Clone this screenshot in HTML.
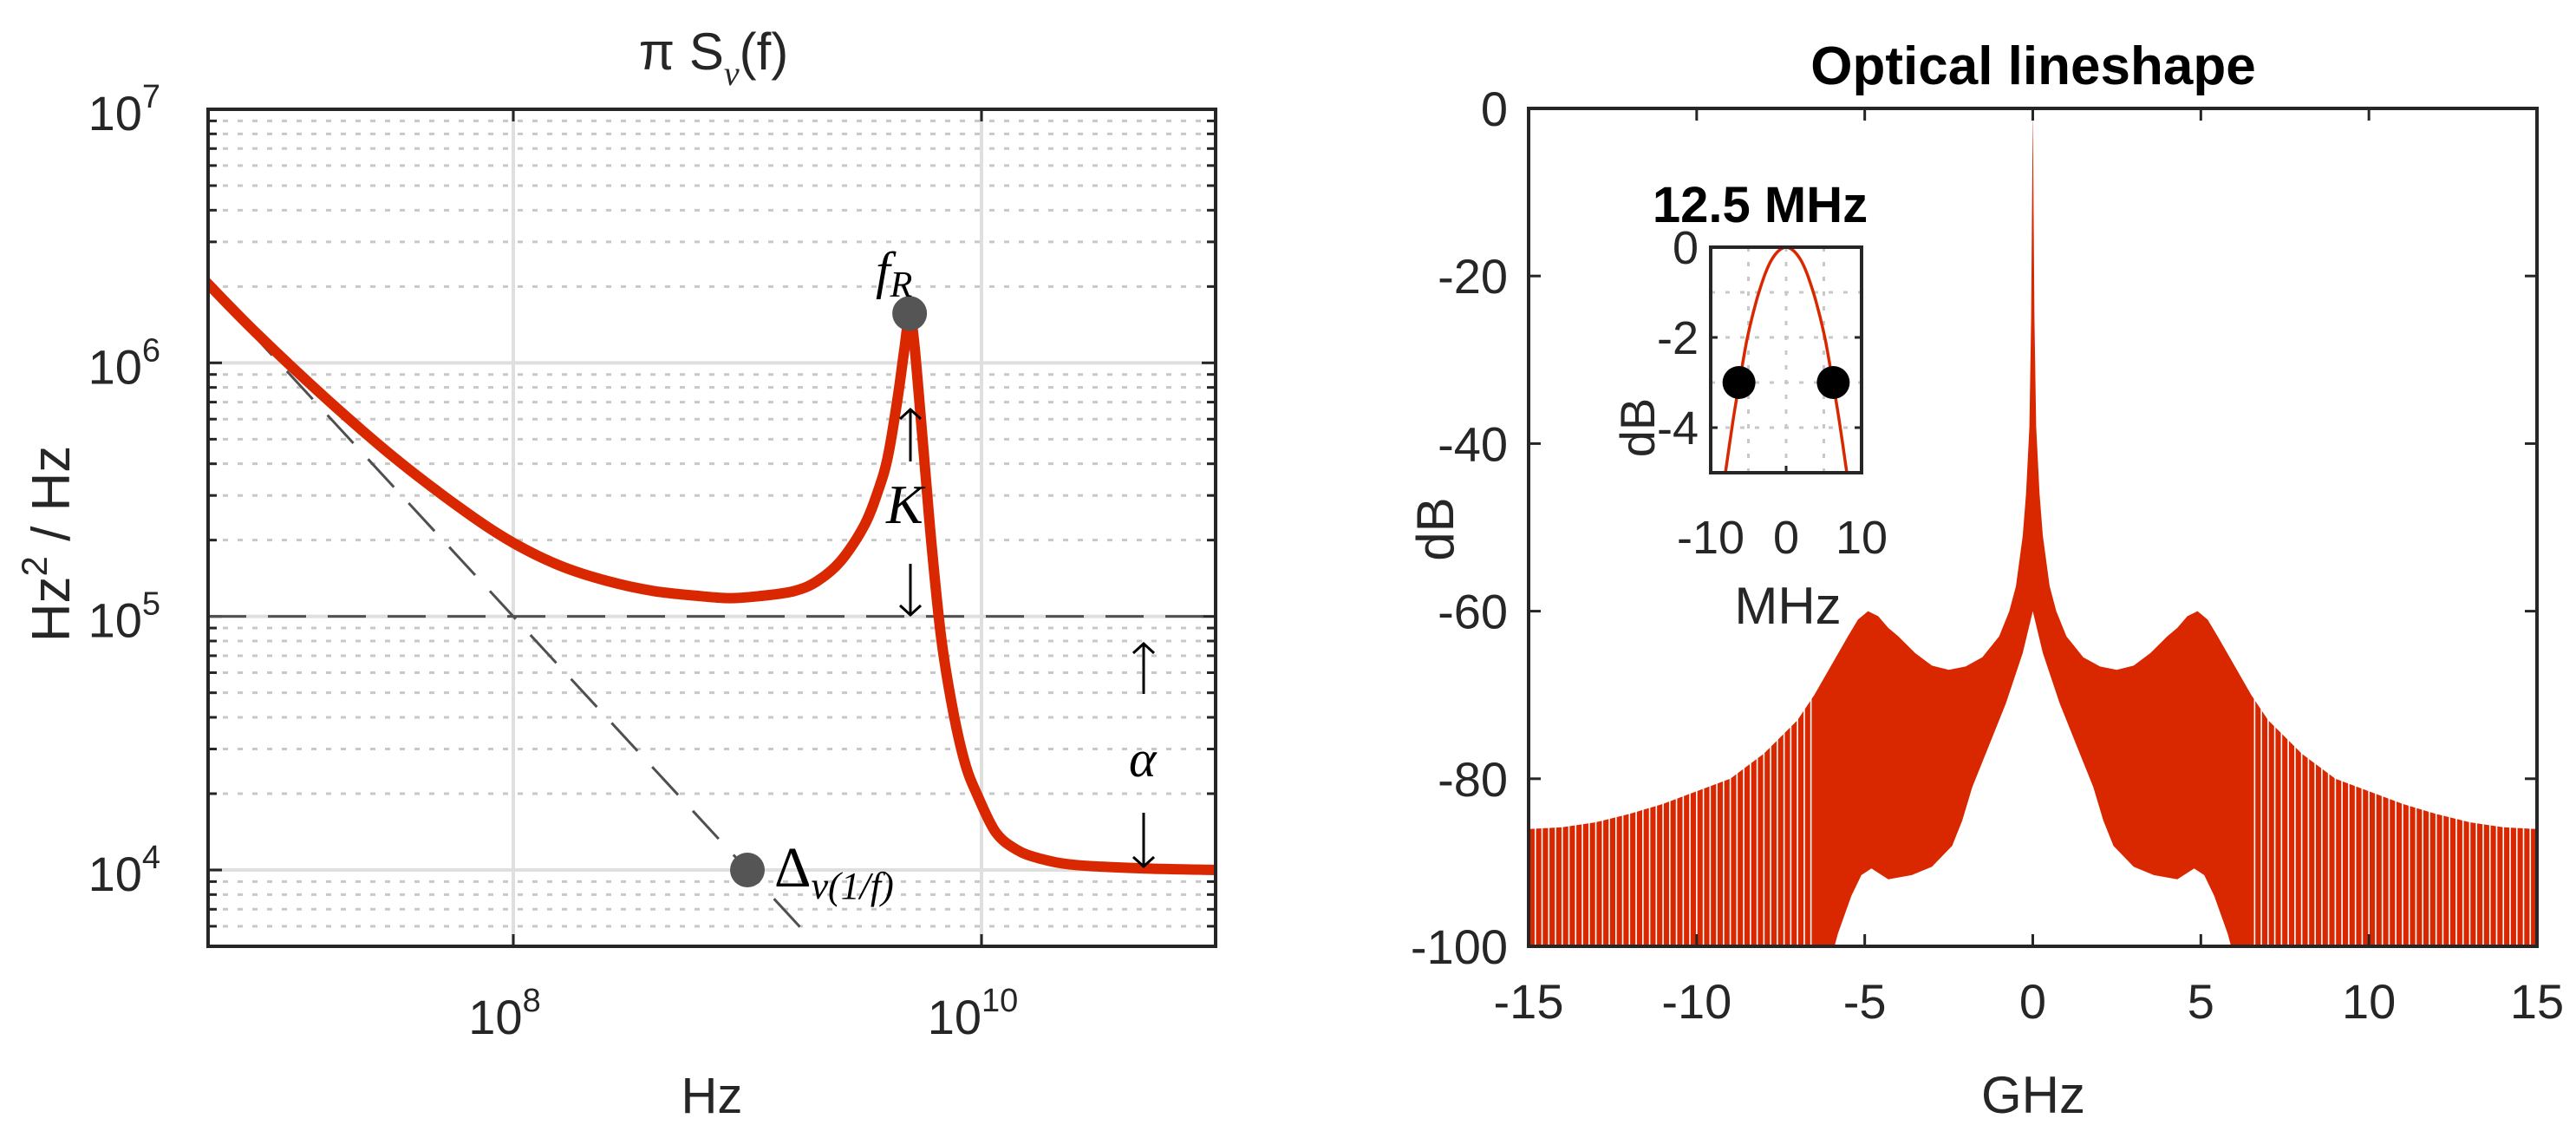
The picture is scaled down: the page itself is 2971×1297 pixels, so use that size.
<!DOCTYPE html>
<html><head><meta charset="utf-8">
<style>
html,body{margin:0;padding:0;background:#fff;}
svg{display:block;}
text{font-family:"Liberation Sans",sans-serif;fill:#262626;}
.m{font-family:"Liberation Serif",serif;font-style:italic;fill:#000;}
</style></head>
<body>
<svg id="fig" width="2971" height="1297" viewBox="0 0 2971 1297" xmlns="http://www.w3.org/2000/svg">
<g id="left"></g>
<g id="right"></g>
<g>
 <text class="m" x="1010" y="332" font-size="60">f<tspan font-size="42" dy="10">R</tspan></text>
 <text class="m" x="1022" y="603" font-size="64">K</text>
 <text class="m" x="1302" y="895" font-size="60">α</text>
 <text x="893" y="1022" font-size="66" style="font-family:'Liberation Serif',serif;fill:#000">Δ<tspan class="m" font-size="44" dy="14">v(1/f)</tspan></text>
 <text x="823" y="80" font-size="60" text-anchor="middle">π S<tspan class="m" font-size="40" dy="18" style="fill:#262626">v</tspan><tspan dy="-18">(f)</tspan></text>
 <text x="821" y="1283" font-size="58" text-anchor="middle">Hz</text>
 <text transform="translate(80,627) rotate(-90)" font-size="62" text-anchor="middle">Hz<tspan font-size="42" dy="-26">2</tspan><tspan dy="26"> / Hz</tspan></text>
</g>
</svg>
<script>
// ---------- Left chart data ----------
const psdLogF = [6.686,6.9,7.2,7.5,7.8,8.0,8.2,8.4,8.6,8.8,8.924,9.05,9.2,9.3,9.4,9.5,9.56,9.6,9.64,9.67,9.693,9.71,9.73,9.76,9.79,9.83,9.88,9.93,9.98,10.06,10.15,10.25,10.4,10.7,11.0];
const psdLogS = [6.321,6.12,5.86,5.62,5.41,5.29,5.2,5.14,5.1,5.08,5.072,5.08,5.1,5.14,5.22,5.36,5.5,5.63,5.85,6.05,6.195,6.1,5.9,5.57,5.25,4.9,4.62,4.42,4.3,4.15,4.08,4.045,4.02,4.006,4.0];
const oneOverFConst = 13.0;
const oneOverFRange = [6.686, 9.236];
const floorLevel = 5;
const markerFR = [9.693, 6.195];
const markerDelta = [9.0, 4.0];
const xTickExp = [8, 10];
const yTickExp = [4, 5, 6, 7];

// ---------- Right chart data ----------
const upperF  = [0,0.05,0.1,0.2,0.3,0.5,0.7,1,1.5,2,2.5,3,3.5,4,4.3,4.6,4.9,5.2,5.5,6,6.5,7,7.5,8,8.5,9,10,11,12,13,14,15];
const upperDB = [0,-25,-38,-46,-51,-57,-60,-63,-65.5,-66.6,-67,-66.5,-65,-63,-62,-60.6,-60,-61,-63,-66.5,-70,-73,-75,-77,-78.5,-80,-81.5,-83,-84.2,-85.2,-85.8,-86];
const lowerF  = [0,0.3,0.8,1.3,1.8,2.1,2.4,3,3.6,4.3,4.8,5.1,5.4,5.8,5.9];
const lowerDB = [-60,-65,-71,-76,-81,-85,-88,-90.5,-91.5,-92,-90.7,-91.5,-94,-98.5,-100];
const xTicksR = [-15,-10,-5,0,5,10,15];
const yTicksR = [0,-20,-40,-60,-80,-100];
// inset
const insetF  = [-8.05,-7,-6.2,-5.25,-4.5,-3.7,-2.8,-2,-1,0,1,2,2.8,3.7,4.5,5.25,6.2,7,8.05];
const insetDB = [-5,-3.8,-3,-2.1,-1.55,-1.05,-0.6,-0.3,-0.08,0,-0.08,-0.3,-0.6,-1.05,-1.55,-2.1,-3,-3.8,-5];
const insetDots = [-6.25, 6.25];
const insetDotDB = -3;
const insetXTicks = [-10,0,10];
const insetYTicks = [0,-2,-4];

const NS="http://www.w3.org/2000/svg";
function mk(parent,tag,attrs,txt){const e=document.createElementNS(NS,tag);for(const k in attrs)e.setAttribute(k,attrs[k]);if(txt!==undefined)e.textContent=txt;parent.appendChild(e);return e;}
function smooth(p){let d='M'+p[0][0].toFixed(1)+','+p[0][1].toFixed(1);
 for(let i=0;i<p.length-1;i++){const p0=p[i-1]||p[i],p1=p[i],p2=p[i+1],p3=p[i+2]||p2;
  const c1=[p1[0]+(p2[0]-p0[0])/6,p1[1]+(p2[1]-p0[1])/6],c2=[p2[0]-(p3[0]-p1[0])/6,p2[1]-(p3[1]-p1[1])/6];
  d+=` C${c1[0].toFixed(1)},${c1[1].toFixed(1)} ${c2[0].toFixed(1)},${c2[1].toFixed(1)} ${p2[0].toFixed(1)},${p2[1].toFixed(1)}`;}
 return d;}

// ===== Left panel =====
const L=document.getElementById('left');
const lx0=240,lx1=1402,ly0=126,ly1=1091;
const lfMin=8-352/270, lfMax=11.0, lsMin=3.699, lsMax=7;
const X=v=>lx0+(v-lfMin)/(lfMax-lfMin)*(lx1-lx0);
const Y=v=>ly1-(v-lsMin)/(lsMax-lsMin)*(ly1-ly0);
const clipL=mk(L,'clipPath',{id:'cl'});mk(clipL,'rect',{x:lx0,y:ly0,width:lx1-lx0,height:ly1-ly0});
for(let d=3;d<7;d++)for(let m=2;m<=9;m++){const v=d+Math.log10(m);if(v<lsMin)continue;const y=Y(v);
 const g=mk(L,'line',{x1:lx0,x2:lx1,y1:y,y2:y,stroke:'#c8c8c8','stroke-width':3,'stroke-dasharray':'6 11'});
 
 mk(L,'line',{x1:lx0,x2:lx0+10,y1:y,y2:y,stroke:'#262626','stroke-width':3});
 mk(L,'line',{x1:lx1-10,x2:lx1,y1:y,y2:y,stroke:'#262626','stroke-width':3});}
yTickExp.forEach(e=>{const y=Y(e);
 const g=mk(L,'line',{x1:lx0,x2:lx1,y1:y,y2:y,stroke:'#dfdfdf','stroke-width':4});
 
 mk(L,'line',{x1:lx0,x2:lx0+16,y1:y,y2:y,stroke:'#262626','stroke-width':3});
 mk(L,'line',{x1:lx1-16,x2:lx1,y1:y,y2:y,stroke:'#262626','stroke-width':3});
 const t=mk(L,'text',{x:lx0-55,y:y+24,'font-size':56,'text-anchor':'end'},'10');
 
 mk(t,'tspan',{dy:-26,'font-size':38},String(e));});
xTickExp.forEach(e=>{const x=X(e);
 const g=mk(L,'line',{x1:x,x2:x,y1:ly0,y2:ly1,stroke:'#dfdfdf','stroke-width':4});
 
 mk(L,'line',{x1:x,x2:x,y1:ly1-14,y2:ly1,stroke:'#262626','stroke-width':3});
 mk(L,'line',{x1:x,x2:x,y1:ly0,y2:ly0+14,stroke:'#262626','stroke-width':3});
 const t=mk(L,'text',{x:x-10,y:1192,'font-size':56,'text-anchor':'middle'},'10');
 
 mk(t,'tspan',{dy:-26,'font-size':38},String(e));});
let dl=mk(L,'line',{x1:lx0,x2:lx1,y1:Y(floorLevel),y2:Y(floorLevel),stroke:'#505050','stroke-width':3,'stroke-dasharray':'44 25'});

dl=mk(L,'line',{x1:X(oneOverFRange[0]),y1:Y(oneOverFConst-oneOverFRange[0]),x2:X(oneOverFRange[1]),y2:Y(oneOverFConst-oneOverFRange[1]),stroke:'#505050','stroke-width':3,'stroke-dasharray':'44 25','clip-path':'url(#cl)'});

const cv=mk(L,'path',{d:smooth(psdLogF.map((f,i)=>[X(f),Y(psdLogS[i])])),fill:'none',stroke:'#d92800','stroke-width':12,'stroke-linejoin':'round','clip-path':'url(#cl)'});

let mkr=mk(L,'circle',{cx:X(markerFR[0]),cy:Y(markerFR[1]),r:20,fill:'#555'});

mkr=mk(L,'circle',{cx:X(markerDelta[0]),cy:Y(markerDelta[1]),r:20,fill:'#555'});

const bx=mk(L,'rect',{x:lx0,y:ly0,width:lx1-lx0,height:ly1-ly0,fill:'none',stroke:'#262626','stroke-width':4});


(function(){
 function arrow(x,y1,y2,name){const g=mk(L,'g',{stroke:'#000','stroke-width':3,fill:'none'});
  
  mk(g,'line',{x1:x,x2:x,y1:y1,y2:y2});const d=y2<y1?1:-1;
  mk(g,'polyline',{points:`${x-12},${y2+d*11} ${x},${y2} ${x+12},${y2+d*11}`});}
 arrow(1050,532,472,'k-up-arrow');arrow(1050,650,709,'k-down-arrow');
 arrow(1319,800,742,'alpha-up-arrow');arrow(1319,937,999,'alpha-down-arrow');
})();

// ===== Right panel =====
(function(){
const R=document.getElementById('right');
const rx0=1763,rx1=2926,ry0=125,ry1=1091;
const X=v=>rx0+(v+15)/30*(rx1-rx0);
const Y=v=>ry0+(-v)/100*(ry1-ry0);
const clip=mk(R,'clipPath',{id:'cr'});mk(clip,'rect',{x:rx0,y:ry0,width:rx1-rx0,height:ry1-ry0});
let up=[];for(let i=upperF.length-1;i>=0;i--)up.push([-upperF[i],upperDB[i]]);
for(let i=1;i<upperF.length;i++)up.push([upperF[i],upperDB[i]]);
let lo=[];for(let i=lowerF.length-1;i>=0;i--)lo.push([lowerF[i],lowerDB[i]]);
for(let i=1;i<lowerF.length;i++)lo.push([-lowerF[i],lowerDB[i]]);
let d='M'+X(-15)+','+Y(-100)+' '+up.map(p=>'L'+X(p[0]).toFixed(1)+','+Y(p[1]).toFixed(1)).join(' ')+' L'+X(15)+','+Y(-100);
d+=' '+lo.map(p=>'L'+X(p[0]).toFixed(1)+','+Y(p[1]).toFixed(1)).join(' ')+' Z';
const sp=mk(R,'path',{d:d,fill:'#d92800','clip-path':'url(#cr)'});

const gaps=mk(R,'g',{stroke:'#fff','stroke-width':1.6,'clip-path':'url(#cr)'});

for(let f=6.6;f<15;f+=0.2){[f,-f].forEach(ff=>{const x=X(ff);mk(gaps,'line',{x1:x,x2:x,y1:ry0,y2:ry1});});}
xTicksR.forEach(v=>{const x=X(v);
 mk(R,'line',{x1:x,x2:x,y1:ry1-14,y2:ry1,stroke:'#262626','stroke-width':3});
 mk(R,'line',{x1:x,x2:x,y1:ry0,y2:ry0+14,stroke:'#262626','stroke-width':3});
 const t=mk(R,'text',{x:x,y:1174,'font-size':56,'text-anchor':'middle'},String(v));
 });
yTicksR.forEach(v=>{const y=Y(v);
 mk(R,'line',{x1:rx0,x2:rx0+14,y1:y,y2:y,stroke:'#262626','stroke-width':3});
 mk(R,'line',{x1:rx1-14,x2:rx1,y1:y,y2:y,stroke:'#262626','stroke-width':3});
 const t=mk(R,'text',{x:rx0-24,y:y+20,'font-size':56,'text-anchor':'end'},String(v));
 });
const bx=mk(R,'rect',{x:rx0,y:ry0,width:rx1-rx0,height:ry1-ry0,fill:'none',stroke:'#262626','stroke-width':4});

let t=mk(R,'text',{x:2345,y:97,'font-size':62,'font-weight':'bold','text-anchor':'middle'},'Optical lineshape');
t.style.fill='#000';
t=mk(R,'text',{x:2345,y:1283,'font-size':60,'text-anchor':'middle'},'GHz');

t=mk(R,'text',{transform:'translate(1676,610) rotate(-90)','font-size':60,'text-anchor':'middle'},'dB');


const ix0=1973,ix1=2147,iy0=285,iy1=545;
const IX=v=>ix0+(v+10)/20*(ix1-ix0);
const IY=v=>iy0+(-v)/5*(iy1-iy0);
const I=mk(R,'g',{});
mk(I,'rect',{x:ix0,y:iy0,width:ix1-ix0,height:iy1-iy0,fill:'#fff'});
const ic=mk(I,'clipPath',{id:'ci'});mk(ic,'rect',{x:ix0,y:iy0,width:ix1-ix0,height:iy1-iy0});
[-5,0,5].forEach(v=>mk(I,'line',{x1:IX(v),x2:IX(v),y1:iy0,y2:iy1,stroke:'#c8c8c8','stroke-width':3,'stroke-dasharray':'5 12'}));
[-1,-2,-3,-4].forEach(v=>mk(I,'line',{x1:ix0,x2:ix1,y1:IY(v),y2:IY(v),stroke:'#c8c8c8','stroke-width':3,'stroke-dasharray':'5 12'}));
const il=mk(I,'path',{d:smooth(insetF.map((f,i)=>[IX(f),IY(insetDB[i])])),fill:'none',stroke:'#d92800','stroke-width':3.5,'clip-path':'url(#ci)'});

insetDots.forEach(v=>{const c=mk(I,'circle',{cx:IX(v),cy:IY(insetDotDB),r:19,fill:'#000'});
 });
insetXTicks.forEach(v=>{const x=IX(v);mk(I,'line',{x1:x,x2:x,y1:iy1-8,y2:iy1,stroke:'#262626','stroke-width':3});
 const tt=mk(I,'text',{x:x,y:638,'font-size':54,'text-anchor':'middle'},String(v));
 });
insetYTicks.forEach(v=>{const y=IY(v);mk(I,'line',{x1:ix0,x2:ix0+8,y1:y,y2:y,stroke:'#262626','stroke-width':3});
 mk(I,'line',{x1:ix1-8,x2:ix1,y1:y,y2:y,stroke:'#262626','stroke-width':3});
 const tt=mk(I,'text',{x:ix0-14,y:y+19,'font-size':54,'text-anchor':'end'},String(v));
 });
mk(I,'rect',{x:ix0,y:iy0,width:ix1-ix0,height:iy1-iy0,fill:'none',stroke:'#262626','stroke-width':4});
t=mk(I,'text',{x:2030,y:256,'font-size':58,'font-weight':'bold','text-anchor':'middle'},'12.5 MHz');
t.style.fill='#000';
t=mk(I,'text',{x:2062,y:719,'font-size':60,'text-anchor':'middle'},'MHz');

t=mk(I,'text',{transform:'translate(1908,493) rotate(-90)','font-size':56,'text-anchor':'middle'},'dB');

})();
</script>
</body></html>
